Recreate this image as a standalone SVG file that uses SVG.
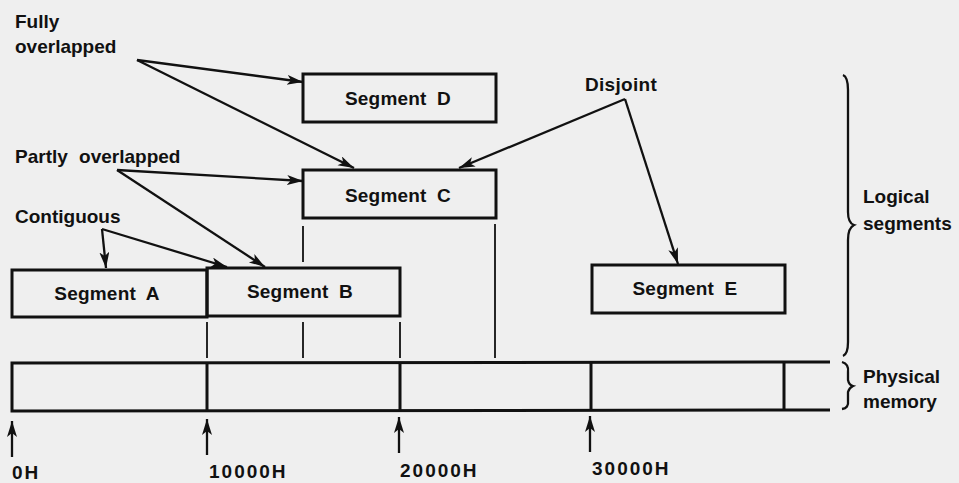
<svg xmlns="http://www.w3.org/2000/svg" width="959" height="483" viewBox="0 0 959 483">
<defs>
<marker id="ah" markerUnits="userSpaceOnUse" markerWidth="18" markerHeight="12" refX="16" refY="5" orient="auto">
<path d="M0,0 L16,5 L0,10 L4,5 z" fill="#111"/>
</marker>
<style>
.bg{fill:#efefef}
.box{fill:none;stroke:#111;stroke-width:3}
.ln{fill:none;stroke:#111;stroke-width:2.3}
.thin{fill:none;stroke:#111;stroke-width:1.8}
.t{font-family:"Liberation Sans",Arial,Helvetica,sans-serif;font-weight:bold;font-size:19px;fill:#111}
.c{text-anchor:middle}
.s{word-spacing:5px;letter-spacing:0.2px}
.n{letter-spacing:2px}
</style>
</defs>
<rect class="bg" x="0" y="0" width="959" height="483"/>

<g id="segD"><rect class="box" x="303" y="74" width="193" height="48"/><text class="t c s" x="398" y="105">Segment D</text></g>
<g id="segC"><rect class="box" x="303" y="170" width="193" height="48"/><text class="t c s" x="398" y="202">Segment C</text></g>
<g id="segA"><rect class="box" x="12" y="270" width="195" height="47"/><text class="t c s" x="107" y="300">Segment A</text></g>
<g id="segB"><rect class="box" x="207" y="268" width="193" height="48"/><text class="t c s" x="300" y="298">Segment B</text></g>
<g id="segE"><rect class="box" x="592" y="265" width="193" height="48"/><text class="t c s" x="685" y="295">Segment E</text></g>

<g id="memory">
<path class="box" d="M830,362 L12,363 L12,411 L830,410"/>
<path class="box" d="M207,363 V411 M400,363 V411 M591,362 V410 M784,362 V410"/>
</g>

<g id="labels">
<text class="t" x="15" y="28">Fully</text>
<text class="t" x="15" y="53">overlapped</text>
<text class="t" x="15" y="163" style="word-spacing:6px">Partly overlapped</text>
<text class="t" x="15" y="223">Contiguous</text>
<text class="t" x="585" y="91" style="letter-spacing:0.3px">Disjoint</text>
<text class="t" x="863" y="203">Logical</text>
<text class="t" x="863" y="230">segments</text>
<text class="t" x="863" y="383">Physical</text>
<text class="t" x="863" y="408">memory</text>
<text class="t n" x="12" y="479">0H</text>
<text class="t n" x="209" y="478">10000H</text>
<text class="t n" x="400" y="477">20000H</text>
<text class="t n" x="592" y="475">30000H</text>
</g>

<g id="braces">
<path class="ln" d="M843,75 Q848,77 848,90 L848,212 Q848,223 854,225 Q848,228 848,240 L848,342 Q848,354 843,356"/>
<path class="ln" d="M842,362 Q849,364 848,372 L848,380 Q849,385 853,386 Q849,388 848,392 L848,401 Q849,408 842,409"/>
</g>

<g id="connectors">
<line class="ln" x1="137" y1="60" x2="303" y2="82" marker-end="url(#ah)"/>
<line class="ln" x1="137" y1="60" x2="354" y2="168" marker-end="url(#ah)"/>
<line class="ln" x1="625" y1="99" x2="459" y2="168" marker-end="url(#ah)"/>
<line class="ln" x1="625" y1="99" x2="678" y2="264" marker-end="url(#ah)"/>
<line class="ln" x1="117" y1="170" x2="303" y2="181" marker-end="url(#ah)"/>
<line class="ln" x1="117" y1="170" x2="265" y2="267" marker-end="url(#ah)"/>
<line class="ln" x1="102" y1="229" x2="106" y2="268" marker-end="url(#ah)"/>
<line class="ln" x1="102" y1="229" x2="227" y2="267" marker-end="url(#ah)"/>
<path class="thin" d="M303,226 V262 M303,322 V358 M207,322 V358 M400,322 V358 M495,224 V358"/>
<line class="ln" x1="12" y1="457" x2="12" y2="421" marker-end="url(#ah)"/>
<line class="ln" x1="207" y1="455" x2="207" y2="419" marker-end="url(#ah)"/>
<line class="ln" x1="399" y1="453" x2="399" y2="417" marker-end="url(#ah)"/>
<line class="ln" x1="590" y1="452" x2="590" y2="416" marker-end="url(#ah)"/>
</g>
</svg>
